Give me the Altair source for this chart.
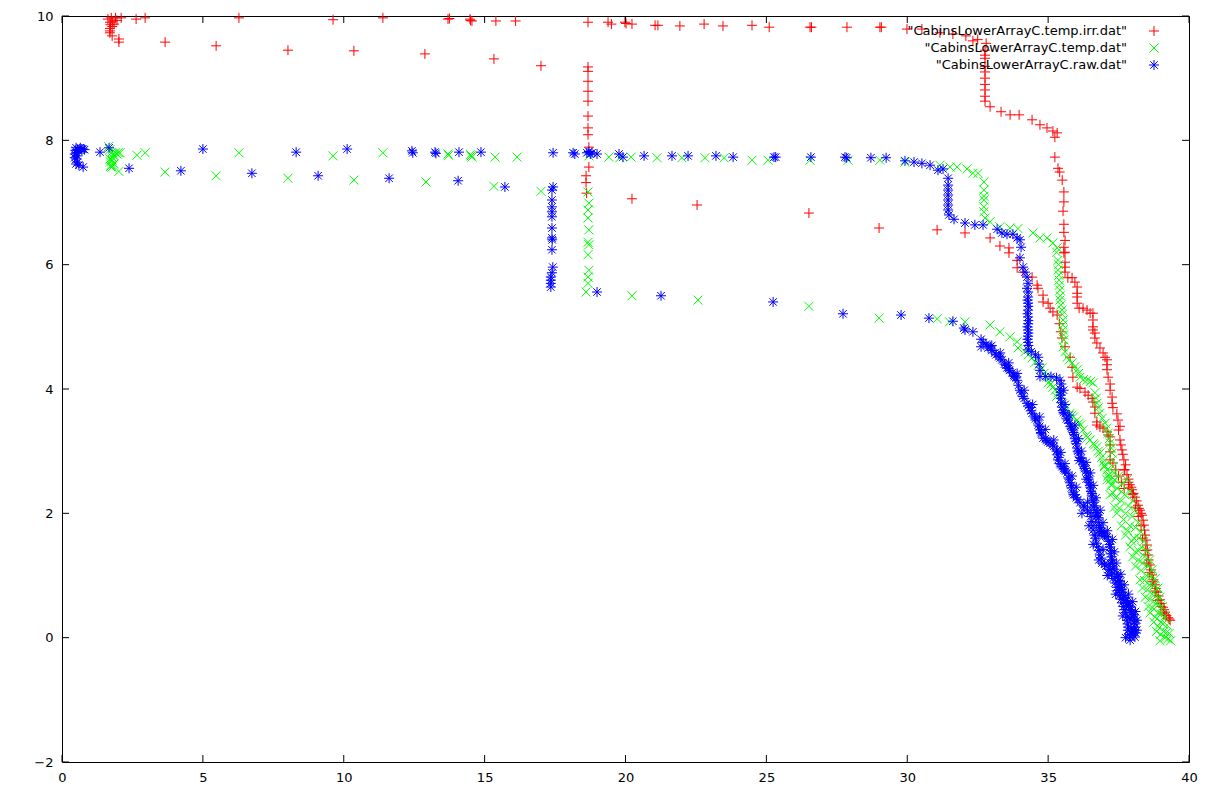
import altair as alt
import pandas as pd

names = ['"CabinsLowerArrayC.temp.irr.dat"', '"CabinsLowerArrayC.temp.dat"', '"CabinsLowerArrayC.raw.dat"']
colors = ["#ff0000", "#00ff00", "#0000ff"]
x_ticks = [0, 5, 10, 15, 20, 25, 30, 35, 40]
y_ticks = [-2, 0, 2, 4, 6, 8, 10]

# ---- irr (red "+") ----
irr_top = [
    (1.63, 9.95), (1.7, 9.9), (1.75, 9.97), (1.8, 9.92), (1.85, 9.87), (1.78, 9.83), (1.72, 9.86), (1.9, 9.97),
    (1.95, 9.93), (2.1, 9.97), (1.7, 9.8), (1.7, 9.76), (1.7, 9.73), (1.78, 9.68),
    (2.63, 9.95), (2.95, 9.97), (6.28, 9.97), (9.62, 9.94), (11.39, 9.97), (13.7, 9.95), (13.75, 9.96), (14.48, 9.95),
    (14.5, 9.93), (14.55, 9.92), (15.4, 9.92), (16.1, 9.92), (18.67, 9.9), (19.38, 9.9), (19.5, 9.87), (19.98, 9.9),
    (20.02, 9.88), (20.23, 9.87), (21.05, 9.85), (21.15, 9.85), (21.93, 9.84), (22.79, 9.87), (23.46, 9.84),
    (24.49, 9.85), (25.1, 9.82), (26.55, 9.82), (26.6, 9.82), (27.86, 9.82), (29.03, 9.82), (29.08, 9.82),
    (29.99, 9.79), (30.52, 9.79), (31.16, 9.73), (31.62, 9.71), (32.08, 9.68), (32.33, 9.6), (32.5, 9.62), (32.8, 9.56),
    (32.76, 9.45), (32.76, 9.37), (32.76, 9.32), (32.76, 9.19), (32.76, 9.1), (32.76, 9.0), (32.76, 8.9), (32.76, 8.81),
    (32.76, 8.71), (32.76, 8.63),
    (32.94, 8.54), (33.33, 8.46), (33.65, 8.41), (33.97, 8.41), (34.43, 8.33), (34.71, 8.25), (34.96, 8.2), (35.17, 8.15),
    (35.32, 8.12), (35.24, 8.05), (35.24, 7.73), (35.35, 7.55), (35.41, 7.49), (35.5, 7.36), (35.56, 7.17), (35.56, 7.01),
    (35.53, 6.86), (35.56, 6.65), (35.56, 6.52), (35.6, 6.39), (35.56, 6.28), (35.6, 6.2), (35.56, 6.19), (35.6, 6.04),
    (35.6, 5.96), (35.6, 5.88),
    (35.7, 5.79), (35.85, 5.79), (35.95, 5.72), (36.03, 5.64), (36.03, 5.54), (36.03, 5.48), (36.03, 5.38), (36.1, 5.3),
    (36.24, 5.3), (36.38, 5.27), (36.49, 5.22), (36.59, 5.22), (36.59, 5.11), (36.59, 5.0), (36.59, 4.95), (36.66, 4.9),
    (36.66, 4.82), (36.73, 4.74), (36.84, 4.66), (36.95, 4.58), (37.02, 4.51), (37.09, 4.47), (37.09, 4.39), (37.09, 4.31),
    (37.13, 4.19), (37.2, 4.08), (37.2, 3.98), (37.27, 3.87), (37.27, 3.77), (37.3, 3.7), (37.44, 3.6), (37.48, 3.5),
    (37.55, 3.4), (37.5, 3.34), (37.55, 3.18), (37.62, 3.02), (37.69, 2.86), (37.75, 2.78), (37.8, 2.62), (37.9, 2.46),
    (37.98, 2.38), (38.08, 2.26), (38.19, 2.13), (38.26, 2.05), (38.33, 1.97), (38.4, 1.81), (38.44, 1.65), (38.51, 1.49),
    (38.54, 1.33), (38.61, 1.17), (38.69, 1.01), (38.79, 0.85), (38.86, 0.73), (38.97, 0.61), (39.08, 0.49), (39.15, 0.41),
    (39.26, 0.32), (39.33, 0.28),
    (37.58, 3.1), (37.65, 2.95), (37.72, 2.7), (37.85, 2.55), (37.95, 2.42), (38.03, 2.32), (38.14, 2.2), (38.22, 2.08),
    (38.3, 2.0), (38.37, 1.89), (38.42, 1.73), (38.47, 1.57), (38.52, 1.41), (38.57, 1.25), (38.65, 1.09), (38.74, 0.93),
    (38.82, 0.79), (38.92, 0.67), (39.02, 0.55), (39.12, 0.45), (39.2, 0.36), (39.3, 0.3),
]
irr_mid = [
    (2.02, 9.63), (2.02, 9.58), (3.66, 9.58), (5.47, 9.52), (8.02, 9.45), (10.36, 9.44), (12.88, 9.39), (15.33, 9.31),
    (17.0, 9.2),
    (18.67, 9.18), (18.67, 9.11), (18.67, 8.95), (18.67, 8.79), (18.67, 8.63), (18.67, 8.39), (18.67, 8.2), (18.67, 8.09),
    (18.7, 7.89), (18.7, 7.57), (18.6, 7.43), (18.6, 7.32), (18.62, 7.15),
    (20.23, 7.06), (22.54, 6.96), (26.51, 6.83), (29.0, 6.59), (31.06, 6.56), (32.05, 6.51), (32.94, 6.43), (33.29, 6.3),
    (33.61, 6.27), (33.61, 6.19), (33.9, 6.07), (33.9, 5.95), (34.11, 5.88), (34.43, 5.8), (34.61, 5.67), (34.64, 5.62),
    (34.82, 5.51), (34.82, 5.4), (35.0, 5.38), (35.07, 5.3), (35.17, 5.24), (35.32, 5.19), (35.4, 5.05), (35.45, 4.92),
    (35.49, 4.82), (35.6, 4.68), (35.78, 4.51), (35.85, 4.35), (35.88, 4.19), (36.03, 4.03), (36.13, 4.01), (36.31, 3.95),
    (36.42, 3.9), (36.56, 3.85), (36.59, 3.79), (36.66, 3.71), (36.66, 3.61), (36.73, 3.47), (36.73, 3.42), (36.84, 3.39),
    (36.95, 3.37), (37.09, 3.31), (37.13, 3.26), (37.2, 3.23), (37.2, 3.1), (37.2, 2.99), (37.2, 2.86), (37.3, 2.81),
    (37.4, 2.7), (37.5, 2.6), (37.6, 2.5), (37.7, 2.4),
    (37.7, 2.7), (37.85, 2.5), (38.0, 2.3), (38.1, 2.1), (38.2, 1.95), (38.3, 1.8), (38.35, 1.6), (38.45, 1.4),
    (38.5, 1.2), (38.6, 1.05), (38.7, 0.9), (38.8, 0.75), (38.9, 0.6), (39.0, 0.5), (39.1, 0.38),
]

# ---- temp (green "x") ----
temp_top = [
    (1.65, 7.9), (1.7, 7.85), (1.75, 7.8), (1.8, 7.78), (1.85, 7.75), (1.9, 7.8), (1.95, 7.78), (1.7, 7.7),
    (1.72, 7.65), (1.75, 7.6), (1.8, 7.72), (2.0, 7.8), (1.78, 7.68), (1.85, 7.62), (1.72, 7.58),
    (2.06, 7.8), (2.66, 7.76), (2.95, 7.8), (6.28, 7.8), (9.62, 7.75), (11.39, 7.8), (13.7, 7.78), (13.72, 7.76),
    (14.5, 7.77), (14.52, 7.75), (14.55, 7.73), (15.37, 7.73), (16.15, 7.73), (18.7, 7.75), (19.41, 7.73), (19.8, 7.72),
    (20.2, 7.73), (21.12, 7.72), (22.0, 7.72), (22.82, 7.72), (23.5, 7.72), (24.49, 7.68), (25.06, 7.68), (26.55, 7.68),
    (27.9, 7.68), (29.03, 7.68), (29.92, 7.65), (31.16, 7.6), (31.52, 7.57), (31.77, 7.57), (32.12, 7.54), (32.33, 7.47),
    (32.51, 7.47),
    (32.72, 7.33), (32.72, 7.2), (32.72, 7.1), (32.72, 7.04), (32.72, 6.93), (32.72, 6.85), (32.76, 6.75), (32.94, 6.69),
    (33.29, 6.61), (33.65, 6.59), (33.93, 6.58), (34.46, 6.51), (34.71, 6.43), (34.96, 6.43), (35.17, 6.35), (35.32, 6.27),
    (35.35, 6.07), (35.35, 5.91), (35.39, 5.75), (35.42, 5.59), (35.42, 5.43), (35.49, 5.27), (35.53, 5.11), (35.53, 4.95),
    (35.56, 4.79), (35.53, 4.68), (35.67, 4.51), (35.85, 4.42), (36.03, 4.31), (36.13, 4.19), (36.38, 4.14), (36.59, 4.1),
    (36.66, 3.94), (36.73, 3.77), (36.84, 3.61), (37.02, 3.45), (37.13, 3.29), (37.2, 3.13), (37.27, 2.97), (37.3, 2.75),
    (37.37, 2.54),
    (36.7, 3.85), (36.78, 3.7), (36.92, 3.53), (37.08, 3.37), (37.17, 3.2), (37.24, 3.05), (37.28, 2.86), (37.33, 2.65),
    (35.3, 6.2), (35.37, 6.0), (35.38, 5.83), (35.4, 5.67), (35.43, 5.5), (35.45, 5.35), (35.5, 5.2), (35.52, 5.03),
    (35.55, 4.87), (35.6, 4.6), (35.75, 4.47), (35.95, 4.36), (36.08, 4.25), (36.25, 4.15), (36.5, 4.12),
]
temp_low = [
    (1.77, 7.57), (2.02, 7.5), (3.66, 7.49), (5.47, 7.43), (8.02, 7.39), (10.36, 7.36), (12.92, 7.33), (15.33, 7.26),
    (17.0, 7.18),
    (18.67, 7.17), (18.7, 6.99), (18.67, 6.88), (18.67, 6.75), (18.7, 6.56), (18.67, 6.36), (18.7, 6.32), (18.67, 6.16),
    (18.7, 5.91), (18.67, 5.8), (18.67, 5.7), (18.6, 5.56),
    (20.23, 5.5), (22.57, 5.43), (26.51, 5.33), (29.0, 5.14), (31.06, 5.13), (31.5, 5.08), (32.05, 5.08), (32.94, 5.03),
    (33.29, 4.92), (33.65, 4.84), (33.9, 4.76), (33.93, 4.66), (34.18, 4.6), (34.43, 4.5), (34.54, 4.43), (34.78, 4.34),
    (34.96, 4.19), (35.17, 4.03), (35.35, 3.94), (35.53, 3.77), (35.78, 3.61), (36.03, 3.5), (36.24, 3.34), (36.49, 3.18),
    (36.73, 3.07), (36.84, 2.97), (36.95, 2.83), (37.09, 2.7), (37.2, 2.54), (37.3, 2.33),
    (35.0, 4.1), (35.25, 3.98), (35.45, 3.85), (35.65, 3.7), (35.9, 3.55), (36.15, 3.42), (36.35, 3.25), (36.6, 3.12),
    (36.9, 2.9), (37.0, 2.77), (37.15, 2.62),
    (34.3, 4.55), (34.65, 4.38), (34.85, 4.25), (35.1, 4.08), (35.3, 3.88), (35.6, 3.68), (35.85, 3.58), (36.1, 3.45),
    (36.4, 3.22), (36.65, 3.1), (36.78, 3.0), (37.0, 2.75), (37.12, 2.6), (37.25, 2.45),
]
temp_band = [
    (37.09, 2.54), (37.2, 2.3), (37.35, 2.1), (37.44, 2.0), (37.6, 1.8), (37.75, 1.65), (37.9, 1.46), (38.0, 1.3),
    (38.1, 1.15), (38.26, 0.93), (38.35, 0.8), (38.45, 0.65), (38.55, 0.5), (38.62, 0.4), (38.75, 0.25), (38.85, 0.1),
    (38.97, -0.05),
    (37.8, 2.54), (37.9, 2.35), (38.0, 2.2), (38.08, 2.05), (38.2, 1.85), (38.3, 1.7), (38.4, 1.55), (38.5, 1.4),
    (38.6, 1.25), (38.7, 1.1), (38.8, 0.95), (38.9, 0.8), (38.97, 0.65), (39.05, 0.5), (39.15, 0.35), (39.22, 0.2),
    (39.3, 0.07), (39.35, -0.05),
    (37.45, 2.4), (37.6, 2.2), (37.75, 2.0), (37.9, 1.8), (38.05, 1.6), (38.2, 1.4), (38.35, 1.2), (38.5, 1.0),
    (38.6, 0.85), (38.7, 0.7), (38.8, 0.55), (38.9, 0.4), (39.0, 0.25), (39.1, 0.1), (39.15, 0.0),
    (37.25, 2.47), (37.4, 2.25), (37.52, 2.08), (37.68, 1.9), (37.82, 1.72), (37.97, 1.55), (38.1, 1.38), (38.2, 1.25),
    (38.3, 1.08), (38.42, 0.92), (38.52, 0.77), (38.6, 0.62), (38.7, 0.48), (38.8, 0.33), (38.9, 0.18), (39.0, 0.05),
    (37.62, 2.47), (37.72, 2.3), (37.85, 2.12), (37.98, 1.95), (38.1, 1.77), (38.22, 1.6), (38.33, 1.45), (38.42, 1.3),
    (38.55, 1.15), (38.65, 0.98), (38.75, 0.83), (38.85, 0.68), (38.92, 0.53), (39.0, 0.38), (39.08, 0.22), (39.2, 0.08),
    (39.25, -0.02), (37.5, 2.6), (37.6, 2.35),
]

# ---- raw (blue "*") ----
raw_top = [
    (0.5, 7.88), (0.55, 7.85), (0.6, 7.82), (0.5, 7.8), (0.55, 7.75), (0.5, 7.7), (0.55, 7.65), (0.6, 7.6), (0.7, 7.86),
    (0.8, 7.85), (0.45, 7.78), (0.5, 7.62), (0.45, 7.72), (0.65, 7.88), (0.48, 7.84),
    (0.75, 7.86), (1.35, 7.81), (1.67, 7.88), (5.0, 7.86), (8.31, 7.81), (10.12, 7.86), (12.42, 7.83), (12.45, 7.8),
    (13.24, 7.81), (13.27, 7.79), (14.09, 7.81), (14.87, 7.81), (17.43, 7.8), (18.14, 7.8), (18.2, 7.78), (18.63, 7.8),
    (18.7, 7.82), (18.75, 7.78), (18.81, 7.8), (18.99, 7.78), (19.77, 7.78), (19.91, 7.73), (20.66, 7.75), (21.65, 7.75),
    (22.22, 7.75), (23.21, 7.75), (23.82, 7.73), (25.27, 7.73), (25.33, 7.73), (26.58, 7.73), (27.79, 7.73),
    (27.85, 7.72), (28.71, 7.72), (29.25, 7.72), (29.92, 7.67), (30.24, 7.65), (30.52, 7.63), (30.81, 7.6), (31.09, 7.52),
    (31.27, 7.54),
    (31.45, 7.39), (31.45, 7.28), (31.45, 7.2), (31.45, 7.12), (31.45, 7.04), (31.45, 6.96), (31.45, 6.88), (31.48, 6.8),
    (31.66, 6.73), (32.05, 6.67), (32.4, 6.64), (32.69, 6.64), (33.19, 6.57), (33.36, 6.51), (33.54, 6.49), (33.75, 6.49),
    (33.9, 6.43), (34.0, 6.4), (34.04, 6.28), (34.0, 6.11), (34.11, 5.96), (34.18, 5.88), (34.25, 5.8), (34.29, 5.7),
    (34.29, 5.56), (34.29, 5.48), (34.29, 5.38), (34.29, 5.27), (34.29, 5.16), (34.29, 5.05), (34.29, 4.95), (34.29, 4.85),
    (34.29, 4.75), (34.29, 4.63), (34.4, 4.6), (34.55, 4.55), (34.65, 4.51), (34.68, 4.4), (34.71, 4.3), (34.71, 4.2),
    (34.9, 4.2), (35.1, 4.2), (35.3, 4.18), (35.42, 4.14), (35.42, 4.0), (35.45, 3.85), (35.49, 3.71), (35.6, 3.6),
    (35.75, 3.45), (35.88, 3.34), (35.95, 3.2), (36.03, 3.05), (36.13, 2.9), (36.25, 2.78), (36.38, 2.65), (36.45, 2.5),
    (36.52, 2.35), (36.59, 2.21), (36.73, 2.01), (36.8, 1.85), (36.84, 1.73), (37.0, 1.65), (37.09, 1.62), (37.2, 1.46),
    (37.27, 1.2), (37.44, 1.04), (37.55, 0.81), (37.73, 0.65), (37.91, 0.49), (38.01, 0.33), (38.08, 0.17), (38.08, 0.01),
    (35.45, 3.9), (35.52, 3.65), (35.65, 3.52), (35.8, 3.4), (35.92, 3.27), (36.0, 3.12), (36.08, 2.97), (36.2, 2.84),
    (36.3, 2.72), (36.42, 2.58), (36.5, 2.42), (36.55, 2.28), (36.65, 2.12), (36.78, 1.93), (36.82, 1.8), (36.95, 1.68),
    (37.15, 1.55), (37.22, 1.35), (37.3, 1.12), (37.5, 0.92), (37.62, 0.73), (37.82, 0.57), (37.96, 0.41), (38.05, 0.25),
    (38.1, 0.08), (36.1, 2.85), (36.35, 2.55), (36.6, 2.1), (36.9, 1.7), (37.25, 1.3), (37.55, 0.9), (37.85, 0.5),
    (38.0, 0.1),
    (34.25, 5.62), (34.27, 5.43), (34.3, 5.33), (34.27, 5.21), (34.3, 5.1), (34.27, 5.0), (34.3, 4.9), (34.27, 4.8),
    (34.3, 4.7),
    (35.47, 4.08), (35.44, 3.95), (35.47, 3.78), (35.55, 3.62), (35.7, 3.5), (35.83, 3.37), (35.9, 3.3), (35.98, 3.16),
    (36.05, 3.0), (36.16, 2.88), (36.28, 2.75), (36.34, 2.68), (36.44, 2.55), (36.48, 2.45), (36.56, 2.32), (36.62, 2.18),
    (36.7, 2.05), (36.76, 1.97), (36.83, 1.77), (36.9, 1.71), (37.05, 1.63), (37.18, 1.5), (37.24, 1.4), (37.28, 1.25),
    (37.35, 1.1), (37.48, 0.98), (37.52, 0.86), (37.6, 0.77), (37.68, 0.68), (37.8, 0.6), (37.88, 0.52), (37.95, 0.45),
    (38.03, 0.37), (38.06, 0.3), (38.08, 0.22), (38.06, 0.12), (38.02, 0.04),
    (35.55, 3.98), (35.6, 3.75), (35.75, 3.58), (35.95, 3.42), (36.08, 3.2), (36.18, 3.0), (36.35, 2.82), (36.5, 2.65),
    (36.6, 2.45), (36.7, 2.25), (36.85, 2.05), (36.95, 1.85), (37.1, 1.72), (37.28, 1.58), (37.35, 1.38), (37.42, 1.2),
    (37.58, 1.02), (37.7, 0.85), (37.85, 0.7), (38.0, 0.58), (38.1, 0.42), (38.15, 0.28), (38.15, 0.12),
]
raw_low = [
    (17.43, 7.25), (17.39, 7.2), (17.39, 7.04), (17.39, 6.93), (17.39, 6.85), (17.39, 6.77), (17.39, 6.59), (17.39, 6.43),
    (17.4, 6.4), (17.39, 6.24), (17.42, 5.96), (17.39, 5.87), (17.35, 5.8), (17.35, 5.75), (17.35, 5.7), (17.35, 5.64),
    (0.75, 7.57), (2.38, 7.55), (4.22, 7.51), (6.74, 7.47), (9.09, 7.43), (11.61, 7.39), (14.06, 7.35), (15.72, 7.25),
    (18.99, 5.56), (21.26, 5.5), (25.24, 5.4), (27.72, 5.21), (29.78, 5.19), (30.77, 5.14), (31.62, 5.09), (32.01, 4.98),
    (32.05, 4.95), (32.33, 4.92), (32.62, 4.8), (32.62, 4.68), (32.87, 4.66), (33.11, 4.58), (33.36, 4.47), (33.54, 4.34),
    (33.72, 4.26), (33.9, 4.14), (34.0, 3.98), (34.25, 3.77), (34.43, 3.61), (34.61, 3.5), (34.71, 3.34), (34.82, 3.21),
    (35.07, 3.13), (35.32, 3.02), (35.35, 2.86), (35.49, 2.75), (35.67, 2.65), (35.78, 2.49), (35.88, 2.33), (36.13, 2.17),
    (36.49, 2.01), (36.59, 1.73), (36.77, 1.46), (36.91, 1.2), (37.2, 1.09), (37.44, 0.81), (37.62, 0.56), (37.8, 0.33),
    (37.83, 0.12), (37.91, -0.04),
    (32.7, 4.75), (33.0, 4.62), (33.25, 4.52), (33.45, 4.4), (33.63, 4.3), (33.8, 4.2), (33.95, 4.06), (34.1, 3.88),
    (34.35, 3.7), (34.52, 3.55), (34.65, 3.42), (34.77, 3.28), (34.95, 3.17), (35.2, 3.08), (35.33, 2.94), (35.42, 2.8),
    (35.58, 2.7), (35.72, 2.57), (35.83, 2.41), (36.0, 2.25), (36.3, 2.1), (36.55, 1.87), (36.68, 1.6), (36.84, 1.33),
    (37.05, 1.15), (37.3, 0.95), (37.53, 0.68), (37.7, 0.45), (37.82, 0.22), (37.88, 0.05),
    (35.9, 2.3), (36.2, 2.0), (36.45, 1.8), (36.6, 1.5), (36.8, 1.25), (37.1, 1.0), (37.4, 0.7), (37.65, 0.35), (37.75, 0.0),
    (32.8, 4.72), (32.95, 4.68), (33.15, 4.55), (33.3, 4.5), (33.5, 4.38), (33.6, 4.33), (33.78, 4.22), (33.85, 4.18),
    (34.05, 3.95), (34.15, 3.85), (34.3, 3.73), (34.4, 3.65), (34.55, 3.52), (34.7, 3.4), (34.75, 3.3), (34.9, 3.2),
    (35.0, 3.15), (35.15, 3.1), (35.3, 3.0), (35.38, 2.9), (35.45, 2.78), (35.55, 2.72), (35.62, 2.68), (35.75, 2.55),
    (35.82, 2.45), (35.95, 2.3), (36.05, 2.22), (36.25, 2.12), (36.4, 2.05), (36.52, 1.95), (36.6, 1.8), (36.64, 1.65),
    (36.72, 1.52), (36.8, 1.4), (36.88, 1.28), (37.0, 1.18), (37.15, 1.1), (37.25, 1.02), (37.38, 0.88), (37.48, 0.76),
    (37.58, 0.62), (37.68, 0.5), (37.75, 0.4), (37.8, 0.28), (37.85, 0.17), (37.9, 0.03),
    (33.0, 4.7), (33.3, 4.58), (33.6, 4.42), (33.9, 4.25), (34.15, 3.98), (34.45, 3.75), (34.7, 3.55), (34.9, 3.35),
    (35.2, 3.18), (35.45, 2.98), (35.6, 2.8), (35.85, 2.6), (36.0, 2.42), (36.4, 2.18), (36.7, 1.95), (36.8, 1.65),
    (36.95, 1.42), (37.2, 1.2), (37.45, 0.98), (37.62, 0.78), (37.78, 0.55), (37.9, 0.32), (37.95, 0.15),
]

series_points = [
    irr_top + irr_mid,
    temp_top + temp_low + temp_band,
    raw_top + raw_low,
]

rows = []
for name, pts in zip(names, series_points):
    for (px, py) in pts:
        rows.append({"x": px, "y": py, "series": name})
df = pd.DataFrame(rows)

W, H = 1127, 746
TICK = 7
FONT = "DejaVu Sans"
FS = 13
MSIZE = 100

plus = "M-1,0L1,0M0,-1L0,1"
cross = "M-0.9,-0.9L0.9,0.9M-0.9,0.9L0.9,-0.9"
star = "M-1,0L1,0M0,-1L0,1M-0.75,-0.75L0.75,0.75M-0.75,0.75L0.75,-0.75"
shapes = [plus, cross, star]

xscale = alt.Scale(domain=[0, 40], nice=False, zero=False)
yscale = alt.Scale(domain=[-2, 10], nice=False, zero=False)
x_axis = alt.Axis(values=x_ticks, title=None, ticks=False, domain=False, grid=False,
                  labelPadding=9, labelFontSize=FS, labelFont=FONT, labelColor="black",
                  format="d", labelFlush=False)
y_axis = alt.Axis(values=y_ticks, title=None, ticks=False, domain=False, grid=False,
                  labelPadding=9, labelFontSize=FS, labelFont=FONT, labelColor="black",
                  format="d", labelFlush=False)

points = alt.Chart(df).mark_point(filled=False, strokeWidth=1, size=MSIZE, opacity=1).encode(
    x=alt.X("x:Q", scale=xscale, axis=x_axis),
    y=alt.Y("y:Q", scale=yscale, axis=y_axis),
    color=alt.Color("series:N", scale=alt.Scale(domain=names, range=colors), legend=None),
    shape=alt.Shape("series:N", scale=alt.Scale(domain=names, range=shapes), legend=None),
)

xt_df = pd.DataFrame({"x": x_ticks})
yt_df = pd.DataFrame({"y": y_ticks})

xb = alt.Chart(xt_df).mark_rule(color="black", strokeWidth=1).encode(
    x=alt.X("x:Q", scale=xscale, axis=x_axis), y=alt.value(H), y2=alt.value(H - TICK))
xtop = alt.Chart(xt_df).mark_rule(color="black", strokeWidth=1).encode(
    x=alt.X("x:Q", scale=xscale, axis=x_axis), y=alt.value(0), y2=alt.value(TICK))
yl = alt.Chart(yt_df).mark_rule(color="black", strokeWidth=1).encode(
    y=alt.Y("y:Q", scale=yscale, axis=y_axis), x=alt.value(0), x2=alt.value(TICK))
yr = alt.Chart(yt_df).mark_rule(color="black", strokeWidth=1).encode(
    y=alt.Y("y:Q", scale=yscale, axis=y_axis), x=alt.value(W), x2=alt.value(W - TICK))

legend_layers = []
for i, (name, c, shp) in enumerate(zip(names, colors, shapes)):
    ly = 15 + 17 * i
    ldf = pd.DataFrame({"label": [name]})
    legend_layers.append(
        alt.Chart(ldf).mark_text(align="right", baseline="middle", font=FONT, fontSize=FS, color="black").encode(
            text="label:N", x=alt.value(W - 62), y=alt.value(ly)))
    legend_layers.append(
        alt.Chart(ldf).mark_point(shape=shp, filled=False, color=c, size=MSIZE, strokeWidth=1, opacity=1).encode(
            x=alt.value(W - 35), y=alt.value(ly)))

chart = alt.layer(points, xb, xtop, yl, yr, *legend_layers).properties(
    width=W, height=H,
    autosize=alt.AutoSizeParams(type="none"),
    padding={"left": 54, "top": 8, "right": 12, "bottom": 28},
    background="white",
).configure_view(stroke="black", strokeWidth=1)

chart.save("out.html", embed_options={"renderer": "svg", "actions": False})
